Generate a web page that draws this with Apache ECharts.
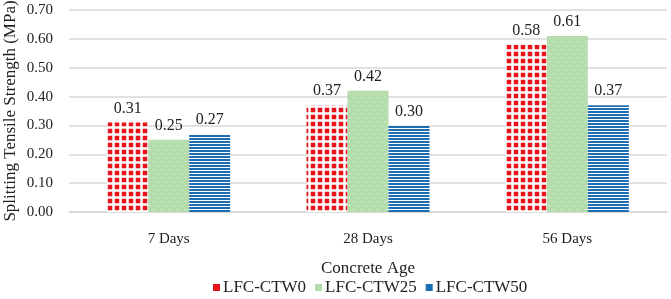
<!DOCTYPE html>
<html>
<head>
<meta charset="utf-8">
<script src="https://cdn.jsdelivr.net/npm/echarts@6/dist/echarts.min.js"></script>
<style>
  html, body { margin: 0; padding: 0; background: #fff; }
  #chart { width: 671px; height: 299px; }
</style>
</head>
<body>
<div id="chart"></div>
<script>
    // data
    var categories = ['7 Days', '28 Days', '56 Days']
    var seriesNames = ['LFC-CTW0', 'LFC-CTW25', 'LFC-CTW50']
    var ctw0 = [0.31, 0.37, 0.58]
    var ctw25 = [0.25, 0.42, 0.61]
    var ctw50 = [0.27, 0.30, 0.37]

    var font = '"Liberation Serif", "Times New Roman", serif'

    // pattern tiles
    function tile(w, h, draw) {
        var c = document.createElement('canvas')
        c.width = w
        c.height = h
        draw(c.getContext('2d'))
        return {image: c, repeat: 'repeat'}
    }

    var redCheck = tile(7, 7, function (ctx) {
        ctx.fillStyle = '#e8141b'
        ctx.fillRect(0, 0, 7, 7)
        ctx.fillStyle = '#f5c2c2'
        ctx.fillRect(0, 0, 3, 7)
        ctx.fillRect(0, 0, 7, 3)
        ctx.fillStyle = '#ffffff'
        ctx.fillRect(1, 0, 1, 7)
        ctx.fillRect(0, 1, 7, 1)
        ctx.fillRect(0, 0, 3, 3)
    })

    var greenDots = tile(8, 8, function (ctx) {
        ctx.fillStyle = '#b4dcac'
        ctx.fillRect(0, 0, 8, 8)
        ctx.fillStyle = '#f2faf0'
        ctx.fillRect(1, 1, 1, 1)
        ctx.fillRect(5, 5, 1, 1)
    })

    var blueStripes = tile(4, 3, function (ctx) {
        ctx.fillStyle = '#ffffff'
        ctx.fillRect(0, 0, 4, 3)
        ctx.fillStyle = '#1d6db3'
        ctx.fillRect(0, 0, 4, 2)
    })

    var chart = echarts.init(document.getElementById('chart'))

    function bar(name, data, fill) {
        return {
            name: name,
            type: 'bar',
            data: data,
            barWidth: 41,
            barGap: '0%',
            itemStyle: {color: fill},
            label: {
                show: true,
                position: 'top',
                distance: 6,
                fontFamily: font,
                fontSize: 16,
                color: '#222',
                formatter: function (p) { return p.value.toFixed(2) }
            }
        }
    }

    chart.setOption({
        animation: false,
        grid: {
            top: 10,
            left: 69,
            right: 4,
            bottom: 87,
            outerBoundsMode: 'none'
        },
        legend: {
            top: 279,
            left: 213,
            padding: 0,
            itemWidth: 7,
            itemHeight: 7,
            itemGap: 9,
            icon: 'rect',
            textStyle: {fontFamily: font, fontSize: 17, color: '#222', padding: [0, 0, 0, -2]},
            data: [
                {name: seriesNames[0], itemStyle: {color: '#e8141b'}},
                {name: seriesNames[1], itemStyle: {color: '#b4dcac'}},
                {name: seriesNames[2], itemStyle: {color: '#1d6db3'}}
            ]
        },
        xAxis: {
            type: 'category',
            data: categories,
            name: 'Concrete Age',
            nameLocation: 'middle',
            nameGap: 48,
            nameMoveOverlap: false,
            nameTextStyle: {fontFamily: font, fontSize: 17, color: '#222'},
            axisLine: {lineStyle: {color: '#d9d9d9', width: 1.5}},
            axisTick: {show: false},
            axisLabel: {fontFamily: font, fontSize: 15, color: '#222', margin: 20}
        },
        yAxis: {
            type: 'value',
            min: 0,
            max: 0.7,
            interval: 0.1,
            name: 'Splitting Tensile Strength (MPa)',
            nameLocation: 'middle',
            nameGap: 50,
            nameMoveOverlap: false,
            nameTextStyle: {fontFamily: font, fontSize: 17, color: '#222'},
            axisLine: {show: false},
            axisTick: {show: false},
            splitLine: {lineStyle: {color: '#d9d9d9', width: 1.5}},
            axisLabel: {
                fontFamily: font,
                fontSize: 15,
                color: '#222',
                margin: 16,
                formatter: function (v) { return v.toFixed(2) }
            }
        },
        series: [
            bar(seriesNames[0], ctw0, redCheck),
            bar(seriesNames[1], ctw25, greenDots),
            bar(seriesNames[2], ctw50, blueStripes)
        ]
    })
</script>
</body>
</html>
